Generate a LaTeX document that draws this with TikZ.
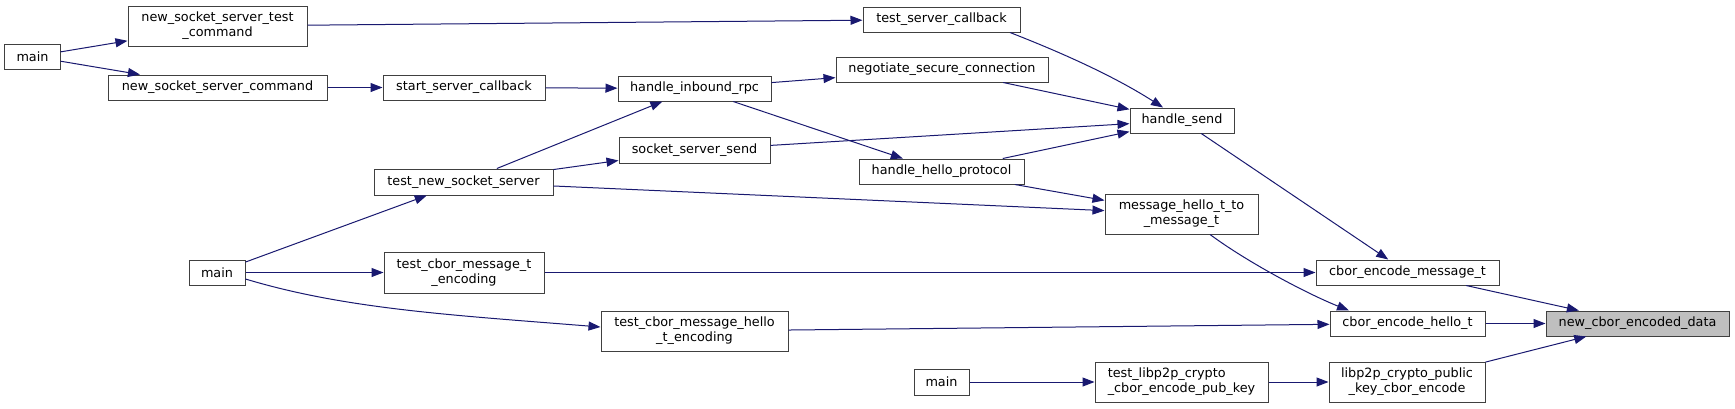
\documentclass[tikz,border=0pt]{standalone}
\usepackage{fontspec}
\setmainfont{DejaVu Sans}
\usetikzlibrary{arrows.meta}
\definecolor{EdgeBlue}{RGB}{25,25,112}
\definecolor{BoxGray}{RGB}{64,64,64}
\definecolor{HiGray}{RGB}{191,191,191}
\tikzset{
  fn/.style={rectangle,draw=BoxGray,fill=white,line width=1bp,inner sep=0pt,align=center,
    font=\fontsize{12.8bp}{15bp}\selectfont},
  hi/.style={fn,fill=HiGray},
  call/.style={draw=EdgeBlue,line width=1bp,-{Triangle[length=12bp,width=9bp]}},
}

\begin{document}
\begin{tikzpicture}[x=1bp,y=-1bp]
\fill[white] (0,0) rectangle (1735,408);
\useasboundingbox (0,0) rectangle (1735,408);
\node[fn,minimum width=55bp,minimum height=25bp] (main1) at (32.5,56.5) {main};
\node[fn,minimum width=56bp,minimum height=25bp] (main2) at (217,272.5) {main};
\node[fn,minimum width=55bp,minimum height=26bp] (main3) at (941.5,382) {main};
\node[fn,minimum width=179bp,minimum height=40bp] (nsstc) at (217.5,26) {new\_socket\_server\_test\\\_command};
\node[fn,minimum width=219bp,minimum height=25bp] (nssc) at (217.5,87.5) {new\_socket\_server\_command};
\node[fn,minimum width=162bp,minimum height=25bp] (ssc) at (464,87.5) {start\_server\_callback};
\node[fn,minimum width=179bp,minimum height=26bp] (tnss) at (463.5,182) {test\_new\_socket\_server};
\node[fn,minimum width=160bp,minimum height=41bp] (tcmte) at (464,272.5) {test\_cbor\_message\_t\\\_encoding};
\node[fn,minimum width=153bp,minimum height=25bp] (hirpc) at (694.5,88.5) {handle\_inbound\_rpc};
\node[fn,minimum width=151bp,minimum height=26bp] (sss) at (694.5,150) {socket\_server\_send};
\node[fn,minimum width=187bp,minimum height=40bp] (tcmhte) at (694.5,331) {test\_cbor\_message\_hello\\\_t\_encoding};
\node[fn,minimum width=157bp,minimum height=25bp] (tsc) at (941.5,19.5) {test\_server\_callback};
\node[fn,minimum width=212bp,minimum height=25bp] (nsc) at (942,69.5) {negotiate\_secure\_connection};
\node[fn,minimum width=165bp,minimum height=25bp] (hhp) at (941.5,171.5) {handle\_hello\_protocol};
\node[fn,minimum width=104bp,minimum height=25bp] (hs) at (1182,120.5) {handle\_send};
\node[fn,minimum width=153bp,minimum height=40bp] (mhtmt) at (1181.5,214) {message\_hello\_t\_to\\\_message\_t};
\node[fn,align=left,minimum width=173bp,minimum height=40bp] (tlcep) at (1181.5,382) {test\_libp2p\_crypto\\\_cbor\_encode\_pub\_key};
\node[fn,minimum width=183bp,minimum height=25bp] (cemt) at (1407.5,272.5) {cbor\_encode\_message\_t};
\node[fn,minimum width=155bp,minimum height=25bp] (ceht) at (1407.5,323.5) {cbor\_encode\_hello\_t};
\node[fn,minimum width=156bp,minimum height=40bp] (lpkce) at (1407,382) {libp2p\_crypto\_public\\\_key\_cbor\_encode};
\node[hi,minimum width=183bp,minimum height=25bp] (ncd) at (1637.5,323.5) {new\_cbor\_encoded\_data};
% calls
\draw[call] (main1) -- (nsstc);
\draw[call] (main1) -- (nssc);
\draw[call] (nsstc) -- (tsc);
\draw[call] (nssc) -- (ssc);
\draw[call] (ssc) -- (hirpc);
\draw[call] (tnss) -- (hirpc);
\draw[call] (tnss) -- (sss);
\draw[call] (tnss) -- (mhtmt);
\draw[call] (hirpc) -- (nsc);
\draw[call] (hirpc) -- (hhp);
\draw[call] ([xshift=68.5bp]tsc.south) .. controls (1060,52) and (1113,75.5) .. ([xshift=-19bp]hs.north);
\draw[call] (nsc) -- (hs);
\draw[call] (sss) -- (hs);
\draw[call] (hhp) -- (hs);
\draw[call] (hhp) -- (mhtmt);
\draw[call] (hs) -- (cemt);
\draw[call] ([xshift=28.5bp]mhtmt.south) .. controls (1250,264) and (1310,295) .. ([xshift=-58.5bp]ceht.north);
\draw[call] (main2) -- (tnss);
\draw[call] (main2) -- (tcmte);
\draw[call] ([yshift=-6.5bp]main2.east) .. controls (345,309) and (451,315) .. ([yshift=4bp]tcmhte.west);
\draw[call] (tcmte) -- (cemt);
\draw[call] (tcmhte) -- (ceht);
\draw[call] (cemt) -- (ncd);
\draw[call] (ceht) -- (ncd);
\draw[call] (lpkce) -- (ncd);
\draw[call] (main3) -- (tlcep);
\draw[call] (tlcep) -- (lpkce);
\end{tikzpicture}
\end{document}
